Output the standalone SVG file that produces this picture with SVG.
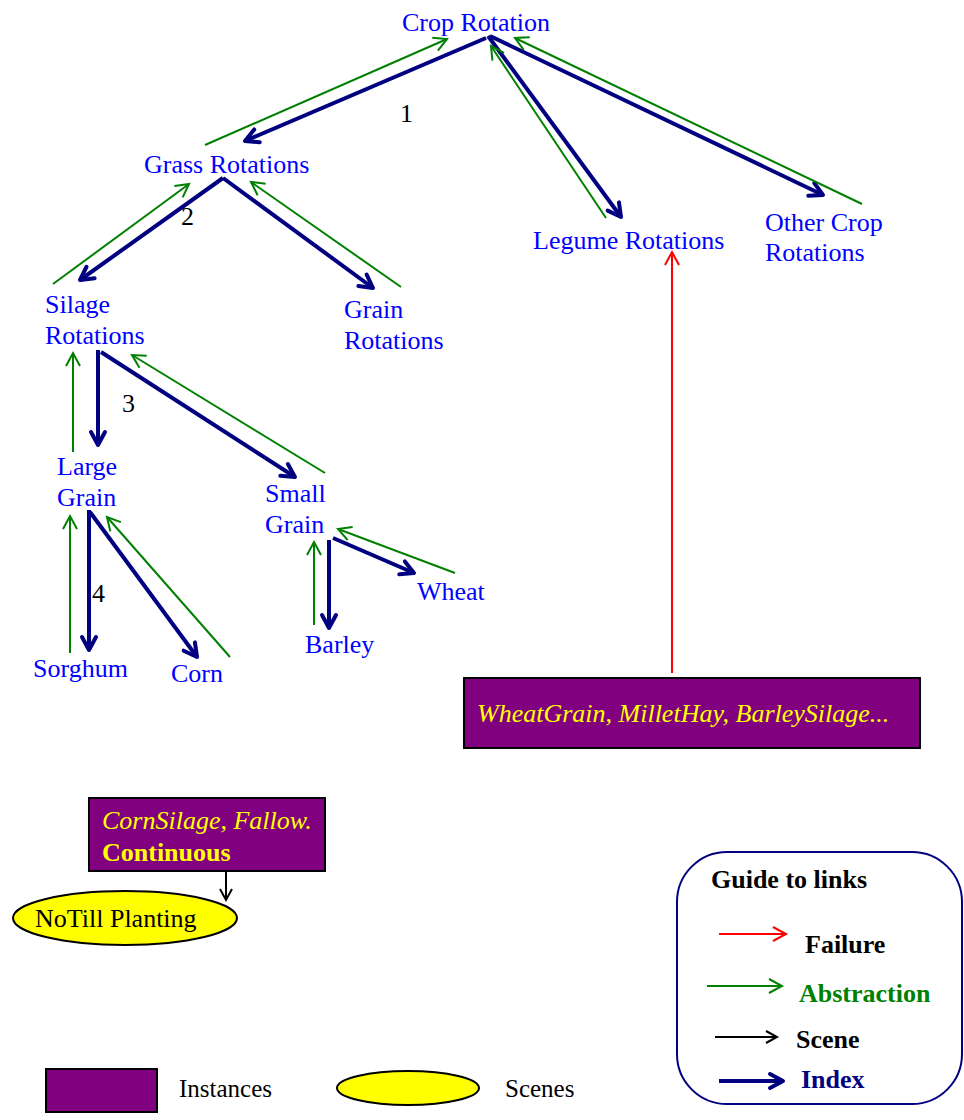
<svg xmlns="http://www.w3.org/2000/svg" width="964" height="1120" viewBox="0 0 964 1120">
<style>
text{font-family:"Liberation Serif","Times New Roman",serif;font-size:26px}
.lbl{fill:#0000FF}
.num{fill:#000000}
.idx{stroke:#000080;stroke-width:4;fill:none}
.abs{stroke:#008000;stroke-width:2;fill:none}
.fail{stroke:#FF0000;stroke-width:2;fill:none}
.scn{stroke:#000000;stroke-width:2;fill:none}
.inst{fill:#800080;stroke:#000000;stroke-width:2}
.scene{fill:#FFFF00;stroke:#000000;stroke-width:2}
.yt{fill:#FFFF00}
.b{font-weight:bold}
.i{font-style:italic}
</style>
<defs>
<marker id="mIdx" markerUnits="userSpaceOnUse" markerWidth="30" markerHeight="30" orient="auto" overflow="visible" refX="0" refY="0">
<path d="M-13,-7 L0,0 L-13,7" fill="none" stroke="#000080" stroke-width="4" stroke-linejoin="round" stroke-linecap="round"/>
</marker>
<marker id="mAbs" markerUnits="userSpaceOnUse" markerWidth="30" markerHeight="30" orient="auto" overflow="visible" refX="0" refY="0">
<path d="M-13,-7 L0,0 L-13,7" fill="none" stroke="#008000" stroke-width="2"/>
</marker>
<marker id="mFail" markerUnits="userSpaceOnUse" markerWidth="30" markerHeight="30" orient="auto" overflow="visible" refX="0" refY="0">
<path d="M-13,-7 L0,0 L-13,7" fill="none" stroke="#FF0000" stroke-width="2"/>
</marker>
<marker id="mScn" markerUnits="userSpaceOnUse" markerWidth="30" markerHeight="30" orient="auto" overflow="visible" refX="0" refY="0">
<path d="M-11,-6 L0,0 L-11,6" fill="none" stroke="#000000" stroke-width="2"/>
</marker>
</defs>
<rect width="964" height="1120" fill="#FFFFFF"/>

<g id="connectors">
<g marker-end="url(#mIdx)">
<line class="idx" x1="486" y1="38" x2="245" y2="141"/>
<line class="idx" x1="488" y1="36" x2="621" y2="217"/>
<line class="idx" x1="490" y1="36" x2="823" y2="195"/>
<line class="idx" x1="223" y1="178" x2="80" y2="280"/>
<line class="idx" x1="223" y1="178" x2="373" y2="288"/>
<line class="idx" x1="98" y1="350" x2="98" y2="445"/>
<line class="idx" x1="101" y1="352" x2="295" y2="477"/>
<line class="idx" x1="89" y1="510" x2="89" y2="650"/>
<line class="idx" x1="90" y1="512" x2="197" y2="657"/>
<line class="idx" x1="329" y1="540" x2="329" y2="628"/>
<line class="idx" x1="333" y1="538" x2="414" y2="573"/>
</g>
<g marker-end="url(#mAbs)">
<line class="abs" x1="205" y1="145" x2="447" y2="39"/>
<line class="abs" x1="606" y1="218" x2="491" y2="46"/>
<line class="abs" x1="862" y1="204" x2="515" y2="38"/>
<line class="abs" x1="53" y1="284" x2="189" y2="184"/>
<line class="abs" x1="401" y1="287" x2="251" y2="182"/>
<line class="abs" x1="73" y1="452" x2="73" y2="353"/>
<line class="abs" x1="325" y1="473" x2="132" y2="355"/>
<line class="abs" x1="70" y1="653" x2="70" y2="516"/>
<line class="abs" x1="230" y1="657" x2="107" y2="517"/>
<line class="abs" x1="314" y1="625" x2="314" y2="542"/>
<line class="abs" x1="455" y1="573" x2="338" y2="529"/>
</g>
<line class="fail" x1="672" y1="673" x2="672" y2="252" marker-end="url(#mFail)"/>
<line class="scn" x1="226" y1="871" x2="226" y2="900" marker-end="url(#mScn)"/>
</g>

<g id="labels-numbers">
<text class="num" x="400" y="122">1</text>
<text class="num" x="181" y="225">2</text>
<text class="num" x="122" y="412">3</text>
<text class="num" x="92" y="602">4</text>
</g>

<g id="node-crop-rotation"><text class="lbl" x="402" y="31">Crop Rotation</text></g>
<g id="node-grass-rotations"><text class="lbl" x="144" y="173">Grass Rotations</text></g>
<g id="node-legume-rotations"><text class="lbl" x="533" y="249">Legume Rotations</text></g>
<g id="node-other-crop-rotations"><text class="lbl" x="765" y="231">Other Crop</text><text class="lbl" x="765" y="261">Rotations</text></g>
<g id="node-silage-rotations"><text class="lbl" x="45" y="313">Silage</text><text class="lbl" x="45" y="344">Rotations</text></g>
<g id="node-grain-rotations"><text class="lbl" x="344" y="318">Grain</text><text class="lbl" x="344" y="349">Rotations</text></g>
<g id="node-large-grain"><text class="lbl" x="57" y="475">Large</text><text class="lbl" x="57" y="506">Grain</text></g>
<g id="node-small-grain"><text class="lbl" x="265" y="502">Small</text><text class="lbl" x="265" y="533">Grain</text></g>
<g id="node-sorghum"><text class="lbl" x="33" y="677">Sorghum</text></g>
<g id="node-corn"><text class="lbl" x="171" y="682">Corn</text></g>
<g id="node-barley"><text class="lbl" x="305" y="653">Barley</text></g>
<g id="node-wheat"><text class="lbl" x="417" y="600">Wheat</text></g>

<g id="node-instances-wheatgrain">
<rect class="inst" x="464" y="678" width="456" height="70"/>
<text class="yt i" x="477" y="722">WheatGrain, MilletHay, BarleySilage...</text>
</g>
<g id="node-instances-cornsilage">
<rect class="inst" x="89" y="798" width="236" height="73"/>
<text class="yt i" x="102" y="829">CornSilage, Fallow.</text>
<text class="yt b" x="102" y="861">Continuous</text>
</g>
<g id="node-notill-planting">
<ellipse class="scene" cx="125" cy="918" rx="112" ry="27"/>
<text x="35" y="927" fill="#000000">NoTill Planting</text>
</g>

<g id="guide">
<rect x="677" y="852" width="285" height="252" rx="50" ry="50" fill="none" stroke="#000080" stroke-width="2"/>
<text class="b" x="711" y="888" fill="#000000">Guide to links</text>
<line class="fail" x1="719" y1="934" x2="786" y2="934" marker-end="url(#mFail)"/>
<text class="b" x="805" y="953" fill="#000000">Failure</text>
<line class="abs" x1="707" y1="986" x2="782" y2="986" marker-end="url(#mAbs)"/>
<text class="b" x="799" y="1002" fill="#008000">Abstraction</text>
<line class="scn" x1="715" y1="1037" x2="777" y2="1037" marker-end="url(#mScn)"/>
<text class="b" x="796" y="1048" fill="#000000">Scene</text>
<line class="idx" x1="719" y1="1081" x2="783" y2="1081" marker-end="url(#mIdx)"/>
<text class="b" x="801" y="1088" fill="#000080">Index</text>
</g>

<g id="legend-shapes">
<rect class="inst" x="46" y="1069" width="111" height="43"/>
<text x="179" y="1097" fill="#000000" style="font-size:25px">Instances</text>
<ellipse class="scene" cx="408" cy="1088" rx="71" ry="17"/>
<text x="505" y="1097" fill="#000000" style="font-size:25px">Scenes</text>
</g>
</svg>
